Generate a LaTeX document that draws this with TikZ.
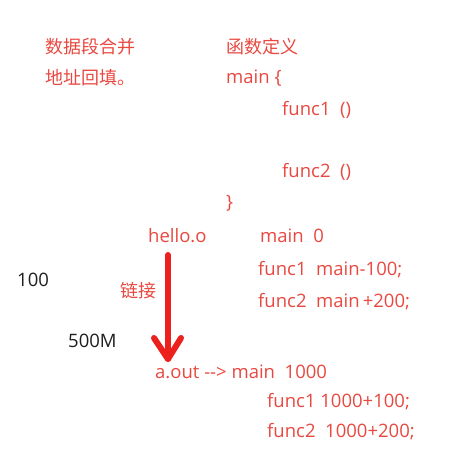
\documentclass[tikz,border=0pt]{standalone}
\usepackage{fontspec}
\setmainfont{Open Sans}
\newfontfamily\cjk{Noto Sans CJK SC}
\definecolor{txtred}{RGB}{232,72,64}
\definecolor{arrred}{RGB}{236,32,28}
\definecolor{txtblack}{RGB}{30,30,30}
\begin{document}
\begin{tikzpicture}[x=1pt,y=-1pt,
  lbl/.style={anchor=west,inner sep=0pt,text=txtred,font=\fontsize{18.5}{20}\selectfont},
  cn/.style={anchor=west,inner sep=0pt,text=txtred,font=\cjk\fontsize{18}{20}\selectfont},
  blk/.style={anchor=west,inner sep=0pt,text=txtblack,font=\fontsize{18.5}{20}\selectfont},
  bigarrow/.style={draw=arrred,line width=6pt,line cap=round,line join=round}]
\useasboundingbox (0,0) rectangle (465,463);
\node[cn] (t1) at (45,47) {数据段合并};
\node[cn] (t2) at (45,78) {地址回填。};
\node[cn] (t3) at (226,47) {函数定义};
\node[lbl] (m1) at (226,78) {main \{};
\node[lbl] (m2) at (282,110) {func1\ \ ()};
\node[lbl] (m3) at (282,172) {func2\ \ ()};
\node[lbl] (m4) at (226,203) {\}};
\node[lbl] (h) at (148,236) {hello.o};
\node[lbl] (h1) at (260,236) {main\ \ 0};
\node[lbl] (h2) at (258,270) {func1\ \ main-100;};
\node[lbl] (h3) at (258,302) {func2\ \ main\,+200;};
\node[blk] (n100) at (17,280) {100};
\node[cn] (lk) at (120,291) {链接};
\node[blk] (n500) at (68,341) {500M};
\node[lbl] (a) at (155,372) {a.out {-}{-}> main\ \ 1000};
\node[lbl] (a2) at (267,402) {func1 1000+100;};
\node[lbl] (a3) at (267,432) {func2\ \ 1000+200;};
\coordinate (atop) at (168,255);
\coordinate (atip) at (168,359);
\coordinate (aleft) at (154,338);
\coordinate (aright) at (181,338);
\draw[bigarrow] (atop) -- (atip);
\draw[bigarrow] (aleft) -- (atip) -- (aright);
\end{tikzpicture}
\end{document}
